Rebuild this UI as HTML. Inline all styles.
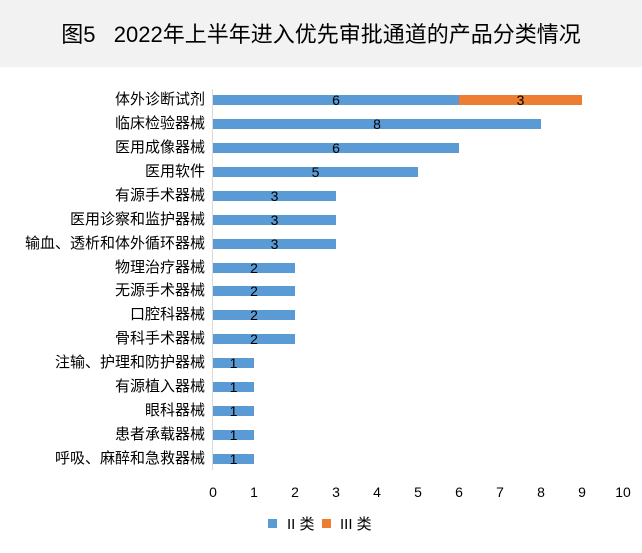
<!DOCTYPE html>
<html><head><meta charset="utf-8"><style>
body{margin:0;width:642px;height:553px;background:#fff;position:relative;overflow:hidden;font-family:"Liberation Sans","Noto Sans CJK SC",sans-serif;color:#000}
.t{position:absolute;left:0;top:0;width:642px;height:67px;background:#f2f2f2;text-align:center;line-height:70px;font-size:22px}
.l{position:absolute;right:437px;font-size:15px;white-space:nowrap;line-height:16px}
.b{position:absolute;height:10px}
.v{position:absolute;font-size:14px;line-height:16px;text-align:center;width:20px}
.x{position:absolute;top:484px;font-size:14px;width:30px;text-align:center}
</style></head><body>
<div class="t">图5&nbsp;&nbsp;&nbsp;2022年上半年进入优先审批通道的产品分类情况</div>
<div style="position:absolute;left:212px;top:89px;width:1px;height:381px;background:#d9d9d9"></div>
<div id="c"></div>
<script>
var d=[["体外诊断试剂",6,3],["临床检验器械",8],["医用成像器械",6],["医用软件",5],["有源手术器械",3],["医用诊察和监护器械",3],["输血、透析和体外循环器械",3],["物理治疗器械",2],["无源手术器械",2],["口腔科器械",2],["骨科手术器械",2],["注输、护理和防护器械",1],["有源植入器械",1],["眼科器械",1],["患者承载器械",1],["呼吸、麻醉和急救器械",1]];
var h="",u=41,x0=213;
d.forEach(function(r,i){var y=100+i*23.93;
h+='<div class="l" style="top:'+(y-8)+'px">'+r[0]+'</div>';
h+='<div class="b" style="left:'+x0+'px;top:'+(y-5)+'px;width:'+(r[1]*u)+'px;background:#5b9bd5"></div>';
h+='<div class="v" style="left:'+(x0+r[1]*u/2-10)+'px;top:'+(y-8)+'px">'+r[1]+'</div>';
if(r[2]){h+='<div class="b" style="left:'+(x0+r[1]*u)+'px;top:'+(y-5)+'px;width:'+(r[2]*u)+'px;background:#ed7d31"></div>';
h+='<div class="v" style="left:'+(x0+(r[1]+r[2]/2)*u-10)+'px;top:'+(y-8)+'px">'+r[2]+'</div>';}
});
for(var k=0;k<=10;k++)h+='<div class="x" style="left:'+(x0+k*u-15)+'px">'+k+'</div>';
document.getElementById("c").innerHTML=h;
</script>
<div style="position:absolute;left:268px;top:519px;width:9px;height:9px;background:#5b9bd5"></div>
<div style="position:absolute;left:287px;top:513px;font-size:15px">II 类</div>
<div style="position:absolute;left:322px;top:519px;width:9px;height:9px;background:#ed7d31"></div>
<div style="position:absolute;left:340px;top:513px;font-size:15px">III 类</div>
</body></html>
